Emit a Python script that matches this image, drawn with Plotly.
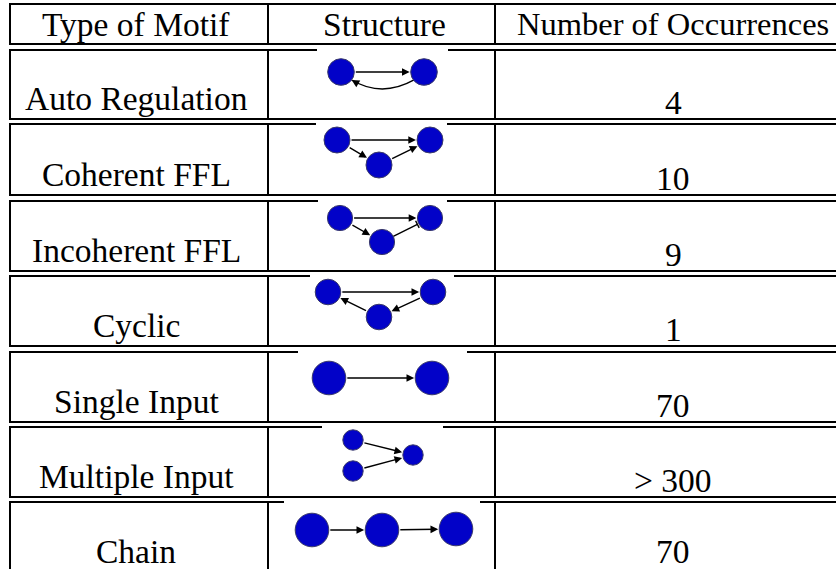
import math
import plotly.graph_objects as go

# ---------------- data ----------------
headers = ["Type of Motif", "Structure", "Number of Occurrences"]
motif_types = ["Auto Regulation", "Coherent FFL", "Incoherent FFL", "Cyclic",
               "Single Input", "Multiple Input", "Chain"]
occurrences = ["4", "10", "9", "1", "70", "> 300", "70"]

# motif graph structures: (source, target, kind)
motif_edges = [
    [(0, 1, "arrow"), (1, 0, "curve")],
    [(0, 1, "arrow"), (0, 2, "arrow"), (2, 1, "arrow")],
    [(0, 1, "arrow"), (0, 2, "arrow"), (2, 1, "bar")],
    [(0, 1, "arrow"), (1, 2, "arrow"), (2, 0, "arrow")],
    [(0, 1, "arrow")],
    [(0, 2, "arrow"), (1, 2, "arrow")],
    [(0, 1, "arrow"), (1, 2, "arrow")],
]

# ---------------- layout (pixel geometry) ----------------
W, H = 836, 569
row_tops = [4, 50, 124, 201, 276, 352, 427, 502]
row_bottoms = [44, 119, 195, 271, 346, 422, 497, 578]
text_bottom_offset = [(21, 17)] * 6 + [(27, 27)]   # last row: keep text inside the page
col_x = [10, 268, 495]
text_x = [136, 384, 673]
# node layout per motif: (x, dy from row top, radius)
node_layout = [
    [(341, 22, 13.3), (424, 22, 13.3)],
    [(337, 16, 13), (430, 16, 13), (379, 41, 13)],
    [(340, 17, 12.6), (430, 17, 12.6), (382, 41, 12.6)],
    [(328, 16, 12.8), (433, 16, 12.8), (379, 41, 12.8)],
    [(329, 26, 16.8), (432, 26, 16.8)],
    [(353, 13, 10.2), (353, 44, 10.2), (413, 28, 10.2)],
    [(312, 28, 16.8), (382, 28, 16.8), (456, 27, 16.8)],
]
image_cover = [(317, 448), (316, 447), (318, 447), (310, 454), (298, 467), (322, 443), (284, 480)]

FONT = dict(family="Liberation Serif", size=33.5, color="black")
NODE_FILL = "#0202C8"
NODE_LINE = "#3a3a6a"

shapes = []
annotations = []

# table boxes
for top, bot in zip(row_tops, row_bottoms):
    shapes.append(dict(type="line", x0=col_x[0] - 1, x1=W + 5, y0=top, y1=top,
                       line=dict(color="black", width=2)))
    shapes.append(dict(type="line", x0=col_x[0] - 1, x1=W + 5, y0=bot, y1=bot,
                       line=dict(color="black", width=2.2)))
    for cx in col_x:
        shapes.append(dict(type="line", x0=cx, x1=cx, y0=top, y1=bot,
                           line=dict(color="black", width=2)))

# white image backgrounds covering the thin rule
for (x0, x1), top in zip(image_cover, row_tops[1:]):
    shapes.append(dict(type="rect", x0=x0, x1=x1, y0=top - 1.6, y1=top + 1.6,
                       fillcolor="white", line=dict(width=0), layer="above"))

# header text
for j, (t, x) in enumerate(zip(headers, text_x)):
    f = dict(FONT)
    if j == 2:
        f["size"] = 32.5
    annotations.append(dict(x=x, y=24, text=t, showarrow=False, font=f,
                            xanchor="center", yanchor="middle"))

# row text
for i, (name, occ) in enumerate(zip(motif_types, occurrences)):
    bot = row_bottoms[i + 1]
    o1, o3 = text_bottom_offset[i]
    annotations.append(dict(x=text_x[0], y=bot - o1, text=name, showarrow=False,
                            font=FONT, xanchor="center", yanchor="middle", borderpad=0))
    annotations.append(dict(x=text_x[2], y=bot - o3, text=occ, showarrow=False,
                            font=FONT, xanchor="center", yanchor="middle", borderpad=0))

# motif diagrams
for i, (nodes, edges) in enumerate(zip(node_layout, motif_edges)):
    top = row_tops[i + 1]
    pts = [(x, top + dy, r) for x, dy, r in nodes]
    for s, t, kind in edges:
        sx, sy, sr = pts[s]
        tx, ty, tr = pts[t]
        if kind == "arrow":
            annotations.append(dict(x=tx, y=ty, ax=sx, ay=sy, xref="x", yref="y",
                                    axref="x", ayref="y", text="", showarrow=True,
                                    arrowhead=2, arrowsize=1.1, arrowwidth=1.4,
                                    arrowcolor="black", standoff=tr + 1,
                                    startstandoff=sr))
        elif kind == "bar":
            dx, dy = tx - sx, ty - sy
            d = math.hypot(dx, dy)
            ux, uy = dx / d, dy / d
            x0, y0 = sx + ux * sr, sy + uy * sr
            x1, y1 = tx - ux * (tr + 1.5), ty - uy * (tr + 1.5)
            shapes.append(dict(type="line", x0=x0, y0=y0, x1=x1, y1=y1,
                               line=dict(color="black", width=1.4), layer="above"))
            px, py = -uy * 4, ux * 4
            shapes.append(dict(type="line", x0=x1 - px, y0=y1 - py, x1=x1 + px, y1=y1 + py,
                               line=dict(color="black", width=1.4), layer="above"))
        elif kind == "curve":
            p0 = (sx - sr * 0.75, sy + sr * 0.6)
            p2 = (tx + tr * 0.8, ty + tr * 0.6)
            c = ((p0[0] + p2[0]) / 2 - 1, max(p0[1], p2[1]) + 18)
            shapes.append(dict(type="path",
                               path=f"M {p0[0]},{p0[1]} Q {c[0]},{c[1]} {p2[0]},{p2[1]}",
                               line=dict(color="black", width=1.4), layer="above"))
            vx, vy = p2[0] - c[0], p2[1] - c[1]
            vd = math.hypot(vx, vy)
            annotations.append(dict(x=p2[0], y=p2[1], ax=p2[0] - vx / vd * 6,
                                    ay=p2[1] - vy / vd * 6, xref="x", yref="y",
                                    axref="x", ayref="y", text="", showarrow=True,
                                    arrowhead=2, arrowsize=1.1, arrowwidth=1.4,
                                    arrowcolor="black"))
    for x, y, r in pts:
        shapes.append(dict(type="circle", x0=x - r, x1=x + r, y0=y - r, y1=y + r,
                           fillcolor=NODE_FILL, line=dict(color=NODE_LINE, width=1),
                           layer="above"))

fig = go.Figure()
fig.add_trace(go.Scatter(x=[0, W], y=[0, H], mode="markers",
                         marker=dict(opacity=0), hoverinfo="skip", showlegend=False))
fig.update_layout(
    width=W, height=H, margin=dict(l=0, r=0, t=0, b=0),
    paper_bgcolor="white", plot_bgcolor="white",
    xaxis=dict(range=[0, W], visible=False, fixedrange=True),
    yaxis=dict(range=[H, 0], visible=False, fixedrange=True),
    shapes=shapes, annotations=annotations, showlegend=False,
)
fig.write_html("out.html", config={"displayModeBar": False},
               post_script="document.body.style.margin='0px';document.body.style.overflow='hidden';")
